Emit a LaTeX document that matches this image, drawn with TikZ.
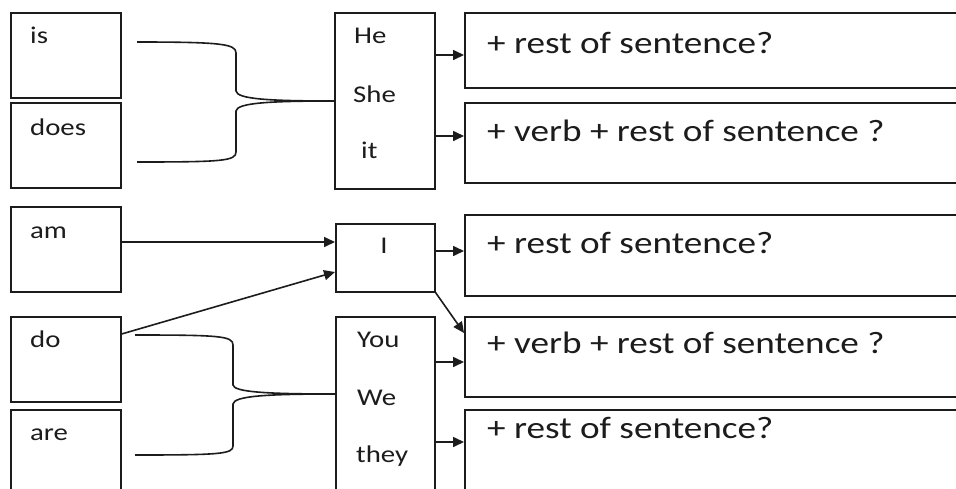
\documentclass[tikz,border=0pt]{standalone}
\usepackage{fontspec}
\usetikzlibrary{arrows.meta}
\newfontfamily\boxfont[FakeStretch=1.2]{Carlito}
\definecolor{ink}{HTML}{1C1C1C}

\tikzset{
  box/.style={draw=ink, line width=1.6pt, rectangle, inner sep=0pt, anchor=north west},
  small/.style={font=\boxfont\fontsize{24pt}{28pt}\selectfont, text=ink, inner sep=0pt, anchor=base west},
  big/.style={font=\boxfont\fontsize{31pt}{36pt}\selectfont, text=ink, inner sep=0pt, anchor=base west},
  link/.style={draw=ink, line width=1.6pt},
  arr/.style={link, -{Triangle[length=11pt,width=10pt]}}
}

\begin{document}
\begin{tikzpicture}[x=1pt, y=-1pt]
\useasboundingbox (0,0) rectangle (956,488);
\fill[white] (0,0) rectangle (956,488);
\clip (0,0) rectangle (956,488);

% verb boxes on the left
\node[box, minimum width=110pt, minimum height=85pt] (is)   at (10,12)  {};
\node[box, minimum width=110pt, minimum height=85pt] (does) at (10,102) {};
\node[box, minimum width=110pt, minimum height=85pt] (am)   at (10,206) {};
\node[box, minimum width=110pt, minimum height=85pt] (do)   at (10,316) {};
\node[box, minimum width=110pt, minimum height=120pt] (are) at (10,409) {};

\node[small] (tis)   at (30,43)  {is};
\node[small] (tdoes) at (30,135) {does};
\node[small] (tam)   at (30,238) {am};
\node[small] (tdo)   at (30,347) {do};
\node[small] (tare)  at (30,440) {are};

% subject boxes in the middle
\node[box, minimum width=100pt, minimum height=176pt] (hs)  at (334,12)  {};
\node[box, minimum width=99pt,  minimum height=68pt]  (i)   at (335,223) {};
\node[box, minimum width=99pt,  minimum height=220pt] (you) at (335,316) {};

\node[small] (the)   at (354,43)  {He};
\node[small] (tshe)  at (353,102) {She};
\node[small] (tit)   at (361,158) {it};
\node[small, anchor=base] (ti) at (384,253) {I};
\node[small] (tyou)  at (357,347) {You};
\node[small] (twe)   at (357,405) {We};
\node[small] (tthey) at (356,462) {they};

% sentence boxes on the right
\node[box, minimum width=560pt, minimum height=75pt]  (r1) at (464,12)  {};
\node[box, minimum width=560pt, minimum height=80pt]  (r2) at (464,102) {};
\node[box, minimum width=560pt, minimum height=81pt]  (r3) at (464,214) {};
\node[box, minimum width=560pt, minimum height=80pt]  (r4) at (464,316) {};
\node[box, minimum width=560pt, minimum height=120pt] (r5) at (464,409) {};

\node[big] (s1) at (487,53)  {+ rest of sentence?};
\node[big] (s2) at (487,141) {+ verb + rest of sentence ?};
\node[big] (s3) at (487,253) {+ rest of sentence?};
\node[big] (s4) at (487,353) {+ verb + rest of sentence ?};
\node[big] (s5) at (487,438) {+ rest of sentence?};

% brace ends
\coordinate (b1) at (137,42);
\coordinate (b2) at (137,162);
\coordinate (b3) at (135,335);
\coordinate (b4) at (135,455);

% braces joining two verbs to a subject box
\draw[link] (b1) .. controls (222,42) and (236,44) .. (236,53) -- (236,91)
  .. controls (237,99) and (268,101) .. (hs.west |- 0,101)
  .. controls (268,101) and (237,103) .. (236,111) -- (236,152)
  .. controls (236,161) and (222,162) .. (b2);
\draw[link] (b3) .. controls (220,335) and (233,336) .. (233,345) -- (233,385)
  .. controls (234,392) and (266,394) .. (you.west |- 0,394)
  .. controls (266,394) and (234,396) .. (233,404) -- (233,446)
  .. controls (233,454) and (220,455) .. (b4);

% arrows
\draw[arr] ([yshift=-36pt]am.north east) -- ([yshift=-19pt]i.north west);
\draw[arr] ([yshift=-18pt]do.north east) -- ([yshift=-49pt]i.north west);
\draw[arr] (i.south east) -- ([yshift=-17pt]r4.north west);
\draw[arr] ([yshift=-43pt]hs.north east) -- ([yshift=-43pt]r1.north west);
\draw[arr] ([yshift=-124pt]hs.north east) -- ([yshift=-34pt]r2.north west);
\draw[arr] ([yshift=-28pt]i.north east) -- ([yshift=-37pt]r3.north west);
\draw[arr] ([yshift=-46pt]you.north east) -- ([yshift=-46pt]r4.north west);
\draw[arr] ([yshift=-126pt]you.north east) -- ([yshift=-33pt]r5.north west);
\end{tikzpicture}
\end{document}
